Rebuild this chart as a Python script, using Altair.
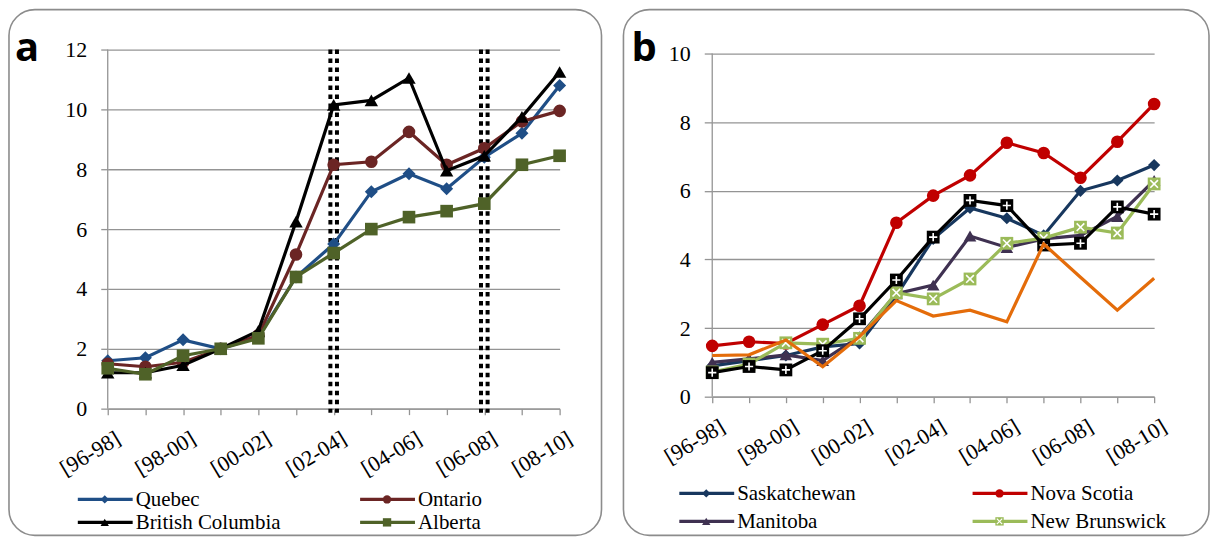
import json

import altair as alt
import pandas as pd

# Three-year windows on the x axis; every other one carries a label
periods = ["[96-98]", "[97-99]", "[98-00]", "[99-01]", "[00-02]", "[01-03]", "[02-04]",
           "[03-05]", "[04-06]", "[05-07]", "[06-08]", "[07-09]", "[08-10]"]
shown_periods = periods[0::2]

# Panel a
quebec = [1.6, 1.7, 2.3, 2.0, 2.4, 4.4, 5.5, 7.25, 7.85, 7.35, 8.4, 9.2, 10.8]
ontario = [1.5, 1.4, 1.55, 2.0, 2.45, 5.15, 8.15, 8.25, 9.25, 8.15, 8.7, 9.6, 9.95]
british_columbia = [1.2, 1.2, 1.45, 2.0, 2.6, 6.25, 10.15, 10.3, 11.05, 7.95, 8.45, 9.75, 11.25]
alberta = [1.35, 1.15, 1.77, 2.0, 2.35, 4.4, 5.2, 6.0, 6.4, 6.6, 6.85, 8.15, 8.45]
marked_periods = ["[02-04]", "[06-08]"]

# Panel b
saskatchewan = [0.9, 1.05, 1.2, 1.45, 1.55, 2.95, 4.6, 5.5, 5.2, 4.7, 6.0, 6.3, 6.75]
nova_scotia = [1.48, 1.6, 1.55, 2.1, 2.65, 5.07, 5.86, 6.45, 7.4, 7.1, 6.38, 7.43, 8.53]
manitoba = [1.0, 1.1, 1.22, 1.05, 1.75, 3.0, 3.25, 4.68, 4.35, 4.6, 4.7, 5.25, 6.3]
new_brunswick = [0.72, 0.95, 1.57, 1.53, 1.7, 3.03, 2.85, 3.43, 4.47, 4.62, 4.94, 4.77, 6.2]
series_5 = [0.7, 0.88, 0.78, 1.34, 2.27, 3.4, 4.65, 5.72, 5.57, 4.42, 4.47, 5.53, 5.32]
series_6 = [1.2, 1.22, 1.65, 0.87, 1.75, 2.8, 2.35, 2.52, 2.18, 4.45, 3.48, 2.52, 3.45]

FONT = "Liberation Serif, Tinos, DejaVu Serif, serif"
GREY = "#949494"
FRAME = "#8c8c8c"
PLUS = "M-0.75,0H0.75M0,-0.75V0.75"
CROSS = "M-0.7,-0.7L0.7,0.7M-0.7,0.7L0.7,-0.7"

one_row = pd.DataFrame({"k": [0]})


def long_table(series):
    rows = []
    for name, vals in series.items():
        for p, v in zip(periods, vals):
            rows.append({"series": name, "period": p, "value": v})
    return pd.DataFrame(rows)


def encodings(ymax, tick_y, head):
    # head: empty fraction kept above the top gridline so both panels share one origin
    label_expr = "indexof(" + json.dumps(shown_periods) + ", datum.value) >= 0 ? datum.value : ''"
    x = alt.X("period:N", scale=alt.Scale(type="point", padding=0, domain=periods),
              axis=alt.Axis(title=None, labelExpr=label_expr, labelAngle=329,
                            labelAlign="right", labelBaseline="top", labelPadding=13,
                            labelOffset=5, tickSize=6, labelOverlap=False, labelBound=False,
                            grid=False, domainColor=GREY, tickColor=GREY, domainWidth=1.3,
                            tickWidth=1.3, labelFont=FONT, labelFontSize=22,
                            labelColor="black"))
    top = ymax * (1 + head)
    y = alt.Y("value:Q", scale=alt.Scale(domain=[0, top], nice=False),
              axis=alt.Axis(title=None, values=list(range(0, ymax + 1, 2)), tickSize=tick_y,
                            labelPadding=14, grid=True, gridColor=GREY, gridWidth=1.3,
                            domain=False, tickColor=GREY, tickWidth=1.3,
                            labelFont=FONT, labelFontSize=22, labelColor="black"))
    return x, y


def frame(x0, x1, y0, y1):
    return alt.Chart(one_row).mark_rect(
        filled=False, stroke=FRAME, strokeWidth=1.6, cornerRadius=26
    ).encode(x=alt.value(x0), x2=alt.value(x1), y=alt.value(y0), y2=alt.value(y1))


def tag(letter, x0, y0):
    return alt.Chart(one_row).mark_text(
        text=letter, font="Open Sans", fontWeight="bold", fontSize=40,
        align="left", baseline="alphabetic", color="black"
    ).encode(x=alt.value(x0), y=alt.value(y0))


def marker_layers(data, x, y, style, size, overlay_size):
    layers = []
    shape = style.get("shape")
    if shape is None:
        return layers
    layers.append(alt.Chart(data).mark_point(
        shape=shape, filled=True, size=size, color=style["color"], opacity=1
    ).encode(x=x, y=y))
    if style.get("overlay"):
        layers.append(alt.Chart(data).mark_point(
            shape=style["overlay"], filled=False, size=overlay_size, color="white",
            strokeWidth=1.6, opacity=1
        ).encode(x=x, y=y))
    return layers


def legend_entry(label, style, x0, y0):
    layers = [alt.Chart(one_row).mark_rule(color=style["color"], strokeWidth=3.2).encode(
        x=alt.value(x0), x2=alt.value(x0 + 55), y=alt.value(y0))]
    if style.get("shape"):
        layers.append(alt.Chart(one_row).mark_point(
            shape=style["shape"], filled=True, size=70, color=style["color"], opacity=1
        ).encode(x=alt.value(x0 + 27), y=alt.value(y0)))
        if style.get("overlay"):
            layers.append(alt.Chart(one_row).mark_point(
                shape=style["overlay"], filled=False, size=60, color="white",
                strokeWidth=1.2, opacity=1
            ).encode(x=alt.value(x0 + 27), y=alt.value(y0)))
    layers.append(alt.Chart(one_row).mark_text(
        text=label, font=FONT, fontSize=21, align="left", baseline="middle", color="black"
    ).encode(x=alt.value(x0 + 58), y=alt.value(y0 + 1)))
    return layers


def panel(series, styles, ymax, w, h, head_px, tick_y, box, letter, letter_pos, legend,
          rules=None, sizes=None):
    df = long_table(series)
    x, y = encodings(ymax, tick_y, head_px / (h - head_px))
    layers = [frame(*box)]
    # y axis line stops at the top gridline
    layers.append(alt.Chart(one_row).mark_rule(color=GREY, strokeWidth=1.3).encode(
        x=alt.value(0), y=alt.datum(0), y2=alt.datum(ymax)))
    if rules:
        rule_df = pd.DataFrame({"period": rules})
        for off in (-3.3, 3.3):
            layers.append(alt.Chart(rule_df).mark_rule(
                color="black", strokeWidth=4, strokeDash=[4.5, 4.5], xOffset=off
            ).encode(x=x, y=alt.datum(ymax), y2=alt.value(h + 4)))
    for name in series:
        style = styles[name]
        sub = df[df["series"] == name]
        layers.append(alt.Chart(sub).mark_line(
            color=style["color"], strokeWidth=3.2, strokeJoin="miter"
        ).encode(x=x, y=y))
        layers += marker_layers(sub, x, y, style, sizes.get(style.get("shape"), 150), 120)
    layers.append(tag(letter, *letter_pos))
    for label, lx, ly in legend:
        layers += legend_entry(label, styles[label], lx, ly)
    return alt.layer(*layers).properties(width=w, height=h)


styles_a = {
    "Quebec": {"color": "#1f4e86", "shape": "diamond"},
    "Ontario": {"color": "#6b2524", "shape": "circle"},
    "British Columbia": {"color": "#000000", "shape": "triangle-up"},
    "Alberta": {"color": "#4f6228", "shape": "square"},
}
series_a = {
    "Quebec": quebec,
    "Ontario": ontario,
    "British Columbia": british_columbia,
    "Alberta": alberta,
}

styles_b = {
    "Saskatchewan": {"color": "#17375e", "shape": "diamond"},
    "Nova Scotia": {"color": "#c00000", "shape": "circle"},
    "Manitoba": {"color": "#3f3151", "shape": "triangle-up"},
    "New Brunswick": {"color": "#9bbb59", "shape": "square", "overlay": CROSS},
    "Series 5": {"color": "#000000", "shape": "square", "overlay": PLUS},
    "Series 6": {"color": "#e46c0a"},
}
series_b = {
    "Saskatchewan": saskatchewan,
    "Nova Scotia": nova_scotia,
    "Manitoba": manitoba,
    "New Brunswick": new_brunswick,
    "Series 5": series_5,
    "Series 6": series_6,
}

chart_a = panel(
    series_a, styles_a, 12, 453, 364, 4, 7, (-99, 495, -36, 491), "a", (-93, 15),
    [("Quebec", -30, 455), ("Ontario", 253, 455),
     ("British Columbia", -30, 478), ("Alberta", 253, 478)],
    rules=marked_periods,
    sizes={"diamond": 170, "circle": 160, "triangle-up": 180, "square": 160},
)

chart_b = panel(
    series_b, styles_b, 10, 443, 352, 8, 8, (-89, 498, -36, 491), "b", (-81, 15),
    [("Saskatchewan", -33, 449), ("Nova Scotia", 261, 449),
     ("Manitoba", -33, 477), ("New Brunswick", 261, 477)],
    sizes={"diamond": 150, "circle": 160, "triangle-up": 160, "square": 165},
)

chart = alt.hconcat(chart_a, chart_b, spacing=20).properties(
    padding={"left": 8, "top": 8, "right": 0, "bottom": 0},
    background="white",
).configure_view(stroke=None)

chart.save("out.html", embed_options={"renderer": "svg", "actions": False})
